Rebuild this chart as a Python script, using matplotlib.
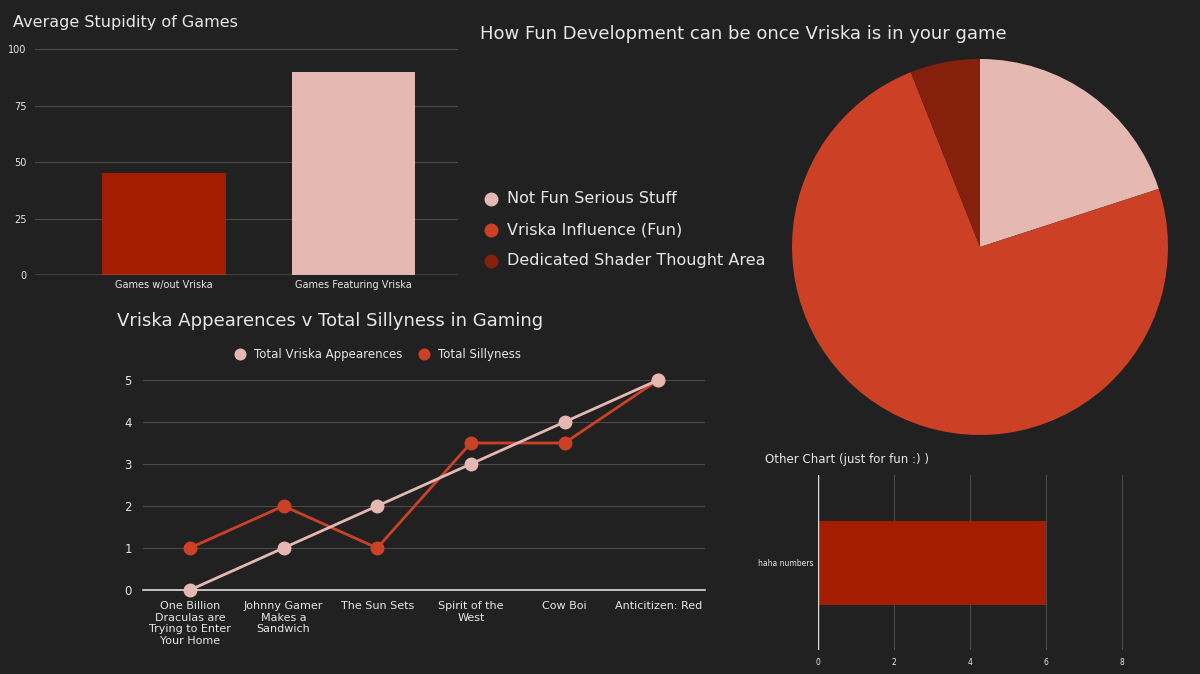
import matplotlib
matplotlib.use("Agg")
import matplotlib.pyplot as plt
from matplotlib.lines import Line2D

BG = "#212121"
TXT = "#e8e8e8"
GRID = "#4a4a4a"
DARK = "#a41d00"
PINK = "#e6b8b2"
RED = "#cc4125"
MAROON = "#85200c"

bar_cats = ["Games w/out Vriska", "Games Featuring Vriska"]
bar_vals = [45, 90]
bar_ticks = [0, 25, 50, 75, 100]

pie_labels = ["Not Fun Serious Stuff", "Vriska Influence (Fun)", "Dedicated Shader Thought Area"]
pie_vals = [20, 74, 6]

line_cats = ["One Billion\nDraculas are\nTrying to Enter\nYour Home", "Johnny Gamer\nMakes a\nSandwich",
             "The Sun Sets", "Spirit of the\nWest", "Cow Boi", "Anticitizen: Red"]
appearances = [0, 1, 2, 3, 4, 5]
silliness = [1, 2, 1, 3.5, 3.5, 5]

other_cat = ["haha numbers"]
other_vals = [6]

W, H = 1200, 674
fig = plt.figure(figsize=(W/100, H/100), dpi=100, facecolor=BG)
def ax_px(x0, y0, x1, y1):
    return fig.add_axes([x0/W, 1-y1/H, (x1-x0)/W, (y1-y0)/H])

def style(ax):
    ax.set_facecolor(BG)
    for s in ax.spines.values():
        s.set_visible(False)
    ax.tick_params(colors=TXT, length=0)

# Bar chart 1
ax1 = ax_px(35, 49, 458, 275)
style(ax1)
ax1.bar(range(2), bar_vals, color=[DARK, PINK], width=0.65, zorder=3)
ax1.set_ylim(0, 100); ax1.set_xlim(-0.68, 1.55)
ax1.set_yticks(bar_ticks)
ax1.set_xticks(range(2)); ax1.set_xticklabels(bar_cats, fontsize=7)
ax1.tick_params(axis="y", labelsize=7, pad=6)
ax1.grid(axis="y", color=GRID, lw=0.8, zorder=0)
ax1.axhline(0, color="#bbbbbb", lw=1, zorder=4)
fig.text(13/W, 1-23/H, "Average Stupidity of Games", color=TXT, fontsize=11.5, va="center")

# Pie
axp = ax_px(792, 59, 1168, 435)
axp.set_facecolor(BG)
axp.pie(pie_vals, colors=[PINK, RED, MAROON], startangle=90, counterclock=False, radius=1)
axp.set_xlim(-1, 1); axp.set_ylim(-1, 1)
axp.set_aspect("equal")
fig.text(480/W, 1-34/H, "How Fun Development can be once Vriska is in your game", color=TXT, fontsize=13, va="center")
for i, (lab, c) in enumerate(zip(pie_labels, [PINK, RED, MAROON])):
    y = 199 + 31*i
    fig.add_artist(Line2D([491/W], [1-y/H], marker="o", color=c, markersize=9, ls=""))
    fig.text(507/W, 1-y/H, lab, color=TXT, fontsize=11.5, va="center")

# Line chart
ax3 = ax_px(143, 380, 705, 590)
style(ax3)
x = range(len(line_cats))
ax3.plot(x, appearances, color=PINK, lw=2, marker="o", markersize=9, zorder=4, label="Total Vriska Appearences")
ax3.plot(x, silliness, color=RED, lw=2, marker="o", markersize=9, zorder=3, label="Total Sillyness")
ax3.set_xlim(-0.5, 5.5); ax3.set_ylim(0, 5)
ax3.set_yticks(range(6))
ax3.set_xticks(list(x)); ax3.set_xticklabels(line_cats, fontsize=8, color=TXT)
ax3.tick_params(axis="y", labelsize=8.5, pad=8)
ax3.tick_params(axis="x", pad=8)
ax3.grid(axis="y", color=GRID, lw=0.8, zorder=0)
ax3.axhline(0, color="#dddddd", lw=1.2, zorder=2)
for lab in ax3.get_yticklabels():
    lab.set_clip_on(False)
for ln in ax3.get_lines():
    ln.set_clip_on(False)
fig.text(117/W, 1-321/H, "Vriska Appearences v Total Sillyness in Gaming", color=TXT, fontsize=13, va="center")
leg = ax3.legend(loc="center", bbox_to_anchor=(0.42, 1.12), ncol=2, frameon=False,
                 fontsize=8.5, labelcolor=TXT, handlelength=0.6, handletextpad=0.9, columnspacing=1.5,
                 markerscale=0.85)
for h in leg.legend_handles:
    h.set_linestyle("")

# Other chart
ax4 = ax_px(818, 475, 1160, 650)
style(ax4)
ax4.barh([0], other_vals, color=DARK, height=0.48, zorder=3)
ax4.set_xlim(0, 9); ax4.set_ylim(-0.5, 0.5)
ax4.set_xticks([0, 2, 4, 6, 8])
ax4.set_yticks([0]); ax4.set_yticklabels(other_cat, fontsize=5.5)
ax4.tick_params(axis="x", labelsize=5.5, pad=6)
ax4.grid(axis="x", color=GRID, lw=0.8, zorder=0)
ax4.axvline(0, color="#dddddd", lw=1, zorder=4)
fig.text(765/W, 1-460/H, "Other Chart (just for fun :) )", color=TXT, fontsize=8.5, va="center")

fig.savefig("out.png", dpi=100, facecolor=BG)
